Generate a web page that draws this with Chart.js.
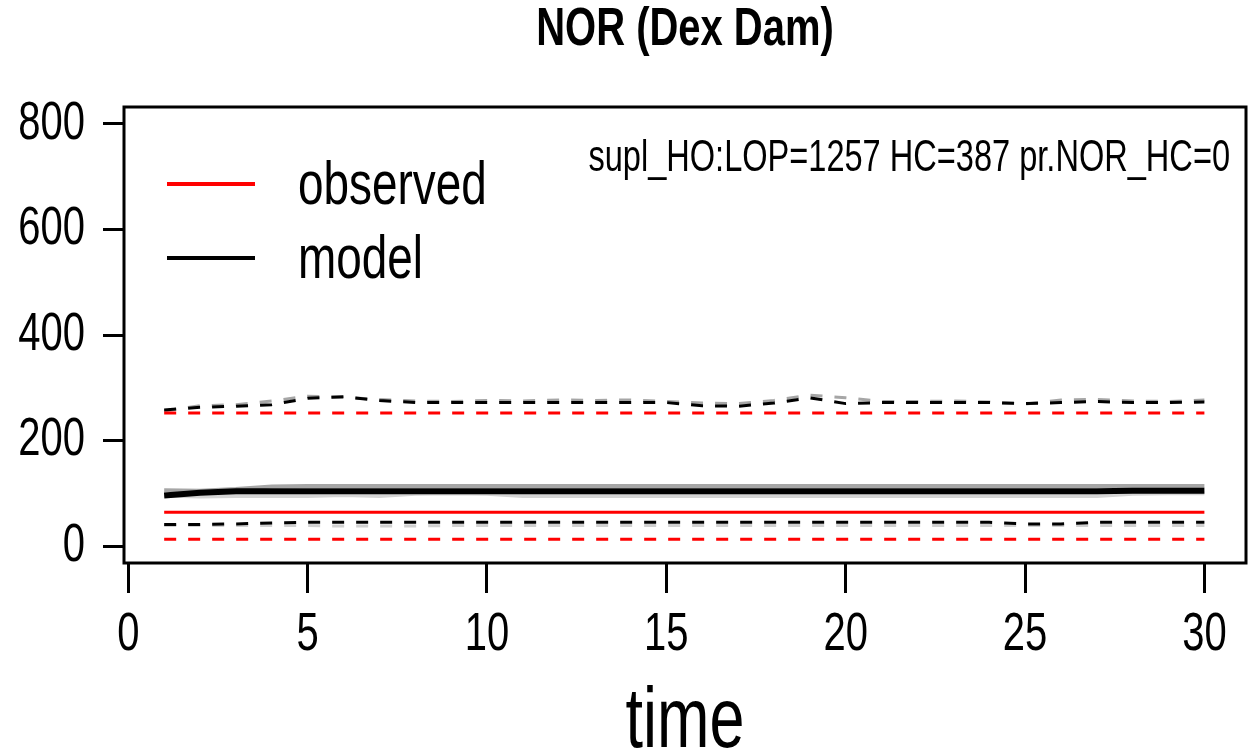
<!DOCTYPE html>
<html>
<head>
<meta charset="utf-8">
<script src="https://cdn.jsdelivr.net/npm/chart.js@4.4.1/dist/chart.umd.min.js"></script>
<style>
  html, body { margin: 0; padding: 0; background: #fff; }
</style>
</head>
<body>
<canvas id="c" width="1253" height="756"></canvas>
<script>
// time steps
const time = [1, 2, 3, 4, 5, 6, 7, 8, 9, 10, 11, 12, 13, 14, 15, 16, 17, 18, 19, 20, 21, 22, 23, 24, 25, 26, 27, 28, 29, 30];

// observed (red) and its bounds
const observed     = [64, 64, 64, 64, 64, 64, 64, 64, 64, 64, 64, 64, 64, 64, 64, 64, 64, 64, 64, 64, 64, 64, 64, 64, 64, 64, 64, 64, 64, 64];
const observedHigh = [252, 252, 252, 252, 252, 252, 252, 252, 252, 252, 252, 252, 252, 252, 252, 252, 252, 252, 252, 252, 252, 252, 252, 252, 252, 252, 252, 252, 252, 252];
const observedLow  = [13, 13, 13, 13, 13, 13, 13, 13, 13, 13, 13, 13, 13, 13, 13, 13, 13, 13, 13, 13, 13, 13, 13, 13, 13, 13, 13, 13, 13, 13];

// model (black) and its bounds
const model     = [96, 101, 104, 104, 104, 104, 104, 104, 104, 104, 104, 104, 104, 104, 104, 104, 104, 104, 104, 104, 104, 104, 104, 104, 104, 104, 104, 105, 105, 105];
const modelHigh = [258, 263, 265, 268, 280, 283, 276, 272, 272, 272, 272, 272, 272, 272, 272, 266, 265, 271, 281, 270, 272, 272, 272, 272, 270, 272, 274, 272, 272, 273];
const modelLow  = [41, 41, 42, 44, 45, 45, 45, 45, 45, 45, 45, 45, 45, 45, 45, 45, 45, 45, 45, 45, 45, 45, 45, 45, 42, 42, 45, 45, 45, 45];

// other model runs (grey)
const runUpper     = [106, 105, 108, 113, 114, 114, 114, 114, 114, 114, 114, 114, 114, 114, 114, 114, 114, 114, 114, 114, 114, 114, 114, 114, 114, 114, 114, 114, 114, 114];
const runLower     = [96, 94, 95, 95, 95, 97, 95, 99, 100, 99, 95, 95, 95, 95, 95, 95, 95, 95, 95, 95, 95, 95, 95, 95, 95, 95, 95, 99, 100, 100];
const runUpperHigh = [256, 266, 268, 275, 284, 282, 278, 275, 274, 276, 275, 277, 276, 277, 274, 271, 270, 276, 286, 281, 274, 274, 275, 273, 269, 277, 278, 275, 274, 277];
const runLowerLow  = [39, 39, 39, 39, 39, 38, 38, 38, 39, 39, 39, 39, 39, 39, 39, 39, 39, 39, 39, 39, 39, 39, 39, 39, 39, 39, 39, 39, 39, 39];

const xTicks = [0, 5, 10, 15, 20, 25, 30];
const yTicks = [0, 200, 400, 600, 800];

const chartTitle = 'NOR (Dex Dam)';
const note = 'supl_HO:LOP=1257 HC=387 pr.NOR_HC=0';

const FONT = "'Liberation Sans', Arial, sans-serif";
Chart.defaults.font.family = FONT;
Chart.defaults.color = '#000';

const pts = (arr) => arr.map((v, i) => ({ x: time[i], y: v }));

const line = (label, data, color, width, dash) => ({
  label: label,
  data: pts(data),
  borderColor: color,
  borderWidth: width,
  borderDash: dash ? [12, 12] : [],
  pointRadius: 0,
  tension: 0,
  fill: false
});

// the original text is a narrow face; squeeze every label horizontally
const narrow = {
  id: 'narrow',
  beforeDraw(chart) {
    const ctx = chart.ctx;
    if (ctx.__narrow) return;
    const fill = ctx.fillText.bind(ctx);
    ctx.fillText = function (text, x, y) {
      ctx.save();
      ctx.translate(x, y);
      ctx.scale(0.74, 1);
      fill(text, 0, 0);
      ctx.restore();
    };
    ctx.__narrow = true;
  }
};

// frame, legend and the note in the top right
const extras = {
  id: 'extras',
  afterDraw(chart) {
    const { ctx, chartArea: a } = chart;
    ctx.save();
    ctx.strokeStyle = '#000';
    ctx.lineWidth = 3;
    ctx.strokeRect(a.left, a.top, a.right - a.left, a.bottom - a.top);

    // legend
    const items = chart.data.datasets.filter(d => d.label === 'observed' || d.label === 'model');
    ctx.font = '62px ' + FONT;
    ctx.textAlign = 'left';
    ctx.textBaseline = 'alphabetic';
    items.forEach((d, i) => {
      const y = a.top + 77 + i * 74;
      ctx.strokeStyle = d.borderColor;
      ctx.lineWidth = 4;
      ctx.setLineDash([]);
      ctx.beginPath();
      ctx.moveTo(a.left + 43, y);
      ctx.lineTo(a.left + 131, y);
      ctx.stroke();
      ctx.fillStyle = '#000';
      ctx.fillText(d.label, a.left + 174, y + 20);
    });

    ctx.font = '44px ' + FONT;
    ctx.textAlign = 'right';
    ctx.fillText(note, a.right - 16, a.top + 64);
    ctx.restore();
  }
};

new Chart(document.getElementById('c'), {
  type: 'line',
  data: {
    datasets: [
      line('observed', observed, '#ff0000', 3, false),
      line('observed high', observedHigh, '#ff0000', 3, true),
      line('observed low', observedLow, '#ff0000', 3, true),
      line('model', model, '#000000', 6, false),
      line('model high', modelHigh, '#000000', 3, true),
      line('model low', modelLow, '#000000', 3, true),
      line('run a', runUpper, '#a6a6a6', 4, false),
      line('run b', runLower, '#d4d4d4', 4, false),
      line('run a high', runUpperHigh, '#a6a6a6', 3, true),
      line('run b low', runLowerLow, '#d0d0d0', 3, true)
    ]
  },
  options: {
    responsive: false,
    animation: false,
    devicePixelRatio: 1,
    layout: { padding: { left: 0, right: 7, top: 0, bottom: 0 } },
    plugins: {
      legend: { display: false },
      tooltip: { enabled: false },
      title: {
        display: true,
        text: chartTitle,
        fullSize: false,
        font: { size: 54, weight: 'bold', lineHeight: 1.1 },
        color: '#000',
        padding: { top: 0, bottom: 47.6 }
      }
    },
    scales: {
      x: {
        type: 'linear',
        min: -0.12,
        max: 31.16,
        afterBuildTicks: (s) => { s.ticks = xTicks.map(v => ({ value: v })); },
        afterFit: (s) => { s.height = 193; },
        border: { display: false },
        grid: { drawOnChartArea: false, drawTicks: true, tickLength: 30, lineWidth: 3, color: '#000' },
        ticks: { font: { size: 54 }, padding: 10, maxRotation: 0, autoSkip: false },
        title: {
          display: true,
          text: 'time',
          font: { size: 85, lineHeight: 0.5 },
          padding: { top: 0, bottom: 11 }
        }
      },
      y: {
        type: 'linear',
        min: -32,
        max: 832,
        afterBuildTicks: (s) => { s.ticks = yTicks.map(v => ({ value: v })); },
        afterFit: (s) => { s.width = 124; },
        border: { display: false },
        grid: { drawOnChartArea: false, drawTicks: true, tickLength: 21, lineWidth: 3, color: '#000' },
        ticks: { font: { size: 54 }, padding: 18, autoSkip: false }
      }
    }
  },
  plugins: [narrow, extras]
});
</script>
</body>
</html>
